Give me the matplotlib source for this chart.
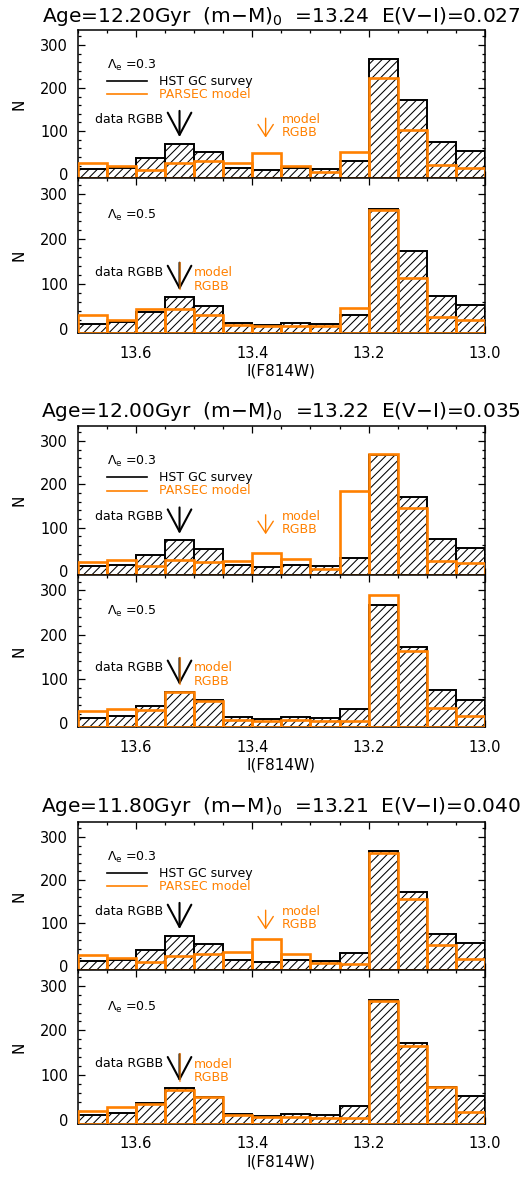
import numpy as np
import matplotlib
matplotlib.use('Agg')
import matplotlib.pyplot as plt
from matplotlib.ticker import MultipleLocator

# bin centres in I(F814W), bins 0.05 mag wide, from 13.7 down to 13.0
i_bins = [13.675, 13.625, 13.575, 13.525, 13.475, 13.425, 13.375,
          13.325, 13.275, 13.225, 13.175, 13.125, 13.075, 13.025]
bin_width = 0.05

# observed counts (same in every panel)
hst = [12, 15, 38, 71, 51, 14, 9, 14, 11, 31, 267, 172, 74, 53]

# PARSEC model counts, one list per panel
model_g1_l03 = [26, 20, 10, 25, 30, 25, 48, 19, 6, 51, 223, 103, 22, 15]
model_g1_l05 = [31, 19, 45, 45, 32, 9, 7, 7, 7, 47, 265, 112, 26, 19]
model_g2_l03 = [20, 26, 12, 26, 22, 23, 42, 28, 5, 186, 270, 145, 23, 18]
model_g2_l05 = [28, 32, 30, 70, 50, 7, 5, 7, 5, 4, 290, 163, 33, 17]
model_g3_l03 = [25, 18, 10, 24, 29, 32, 62, 29, 8, 4, 262, 157, 50, 17]
model_g3_l05 = [20, 29, 35, 66, 51, 10, 7, 7, 4, 4, 265, 166, 73, 18]

ages = ['12.20', '12.00', '11.80']
dist_mod = ['13.24', '13.22', '13.21']
reddening = ['0.027', '0.035', '0.040']
lambdas = ['0.3', '0.5']

# RGBB positions marked by the arrows
data_rgbb = 13.525
model_rgbb = [[13.377, 13.525], [13.377, 13.525], [13.377, 13.525]]

models = [[model_g1_l03, model_g1_l05],
          [model_g2_l03, model_g2_l05],
          [model_g3_l03, model_g3_l05]]

ORANGE = '#ff8000'
YMIN, YMAX = -9, 335
W, H = 530.0, 1181.0

# pixel layout of the three groups: (top, divider, bottom)
groups_px = [(30, 178, 333), (426, 575, 727), (822, 970, 1124)]
title_base_px = [22, 417, 812]
ax_left, ax_right = 77.7, 485.0

plt.rcParams['hatch.linewidth'] = 0.75
plt.rcParams['font.family'] = 'DejaVu Sans'

fig = plt.figure(figsize=(W / 100, H / 100), dpi=100)


def style_axis(ax, show_xlabels):
    ax.set_xlim(13.7, 13.0)
    ax.set_ylim(YMIN, YMAX)
    ax.xaxis.set_major_locator(MultipleLocator(0.2))
    ax.xaxis.set_minor_locator(MultipleLocator(0.05))
    ax.yaxis.set_major_locator(MultipleLocator(100))
    ax.yaxis.set_minor_locator(MultipleLocator(20))
    ax.tick_params(which='both', direction='in', top=True, right=True, width=0.9)
    ax.tick_params(which='major', length=5)
    ax.tick_params(which='minor', length=2.5)
    ax.tick_params(axis='y', labelsize=10.5, pad=7)
    ax.tick_params(axis='x', labelsize=10.5, pad=9)
    for s in ax.spines.values():
        s.set_linewidth(1.1)
    ax.set_ylabel('N', fontsize=11)
    ax.yaxis.set_label_coords(-0.125, 0.5)
    if show_xlabels:
        ax.set_xlabel('I(F814W)', fontsize=11)
        ax.xaxis.set_label_coords(0.5, -0.2)
    else:
        ax.tick_params(axis='x', labelbottom=False)


for g in range(3):
    top, mid, bot = groups_px[g]
    fig.text((ax_left + ax_right) / 2 / W, 1 - title_base_px[g] / H,
             'Age=%sGyr  (m$-$M)$_0$  =%s  E(V$-$I)=%s' % (ages[g], dist_mod[g], reddening[g]),
             ha='center', va='baseline', fontsize=14.5)
    for p in range(2):
        y0, y1 = (top, mid) if p == 0 else (mid, bot)
        ax = fig.add_axes([ax_left / W, 1 - y1 / H, (ax_right - ax_left) / W, (y1 - y0) / H])
        ax.bar(i_bins, np.array(hst) - YMIN, bottom=YMIN, width=bin_width,
               facecolor='white', edgecolor='black', hatch='////', linewidth=1.4, zorder=2)
        ax.bar(i_bins, np.array(models[g][p]) - YMIN, bottom=YMIN, width=bin_width,
               fill=False, edgecolor=ORANGE, linewidth=1.9, zorder=3)
        style_axis(ax, p == 1)

        ax.text(0.071, 0.76, r'$\Lambda_{\rm e}$ =' + lambdas[p], transform=ax.transAxes,
                fontsize=9, va='center', ha='left')

        # data RGBB arrow
        ax.text(13.553, 126, 'data RGBB', fontsize=9, ha='right', va='center')
        ax.annotate('', xy=(data_rgbb, 86), xytext=(data_rgbb, 147),
                    arrowprops=dict(arrowstyle='->, head_length=1.6, head_width=0.85',
                                    color='black', lw=1.5, shrinkA=0, shrinkB=0), zorder=5)
        mx = model_rgbb[g][p]
        if p == 0:
            ax.plot([0.071, 0.169], [0.655, 0.655], color='black', lw=1.2, transform=ax.transAxes)
            ax.plot([0.071, 0.169], [0.566, 0.566], color=ORANGE, lw=1.2, transform=ax.transAxes)
            ax.text(0.2, 0.655, 'HST GC survey', transform=ax.transAxes, fontsize=9, va='center')
            ax.text(0.2, 0.566, 'PARSEC model', transform=ax.transAxes, fontsize=9,
                    va='center', color=ORANGE)
            ax.annotate('', xy=(mx, 85), xytext=(mx, 130),
                        arrowprops=dict(arrowstyle='->, head_length=0.85, head_width=0.55',
                                        color=ORANGE, lw=1.0, shrinkA=0, shrinkB=0), zorder=5)
            ax.text(13.349, 126, 'model', fontsize=9, color=ORANGE, ha='left', va='center')
            ax.text(13.349, 96, 'RGBB', fontsize=9, color=ORANGE, ha='left', va='center')
        else:
            ax.plot([mx, mx], [88, 147], color=ORANGE, lw=1.5, alpha=0.6, zorder=6)
            ax.text(13.50, 125, 'model', fontsize=9, color=ORANGE, ha='left', va='center')
            ax.text(13.50, 95, 'RGBB', fontsize=9, color=ORANGE, ha='left', va='center')

fig.savefig('out.png', dpi=100)
